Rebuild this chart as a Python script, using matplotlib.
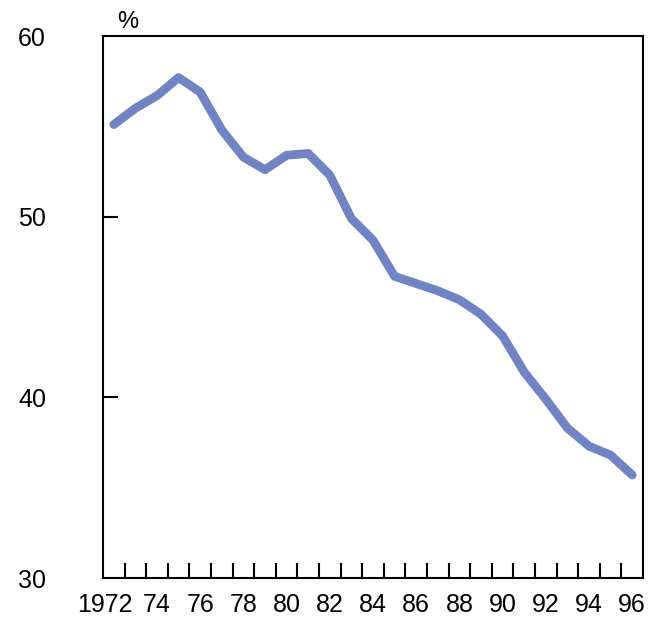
import matplotlib.pyplot as plt
from matplotlib.transforms import ScaledTranslation

years = list(range(1972, 1997))
share = [55.1, 56.0, 56.7, 57.7, 56.9, 54.8, 53.3, 52.6, 53.4, 53.5,
         52.3, 49.9, 48.7, 46.7, 46.3, 45.9, 45.4, 44.6, 43.4, 41.4,
         39.9, 38.3, 37.3, 36.8, 35.7]
label_years = list(range(1972, 1997, 2))
label_text = ["1972"] + [str(y)[2:] for y in label_years[1:]]
y_ticks = [30, 40, 50, 60]

plt.rcParams['font.family'] = ['Liberation Sans', 'DejaVu Sans']

fig = plt.figure(figsize=(6.53, 6.19), dpi=100)
ax = fig.add_axes([0.1577, 0.0662, 0.827, 0.8756])

ax.plot(years, share, color='#7083c4', linewidth=6.3, solid_capstyle='round',
        solid_joinstyle='round')

ax.set_xlim(1971.5, 1996.5)
ax.set_ylim(30, 60)

for s in ax.spines.values():
    s.set_linewidth(1.5)
    s.set_color('black')

# year boundary ticks (inward, no labels)
ax.set_xticks([y + 0.5 for y in years[:-1]])
ax.tick_params(axis='x', which='major', direction='in', length=11, width=1.5,
               labelbottom=False)
ax.set_xticks(label_years, minor=True)
ax.set_xticklabels(label_text, minor=True, fontsize=18)
ax.tick_params(axis='x', which='minor', length=0, pad=11)
first = ax.get_xticklabels(minor=True)[0]
first.set_transform(first.get_transform() + ScaledTranslation(-6.5 / 72, 0, fig.dpi_scale_trans))

ax.set_yticks(y_ticks)
ax.set_yticklabels([str(v) for v in y_ticks], fontsize=18)
ax.tick_params(axis='y', direction='in', length=11, width=1.5, pad=41)
for t in ax.yaxis.get_major_ticks():
    if t.get_loc() in (30, 60):
        t.tick1line.set_visible(False)

ax.text(0.027, 1.005, '%', transform=ax.transAxes, fontsize=17,
        ha='left', va='bottom')

fig.savefig('out.png', dpi=100)
